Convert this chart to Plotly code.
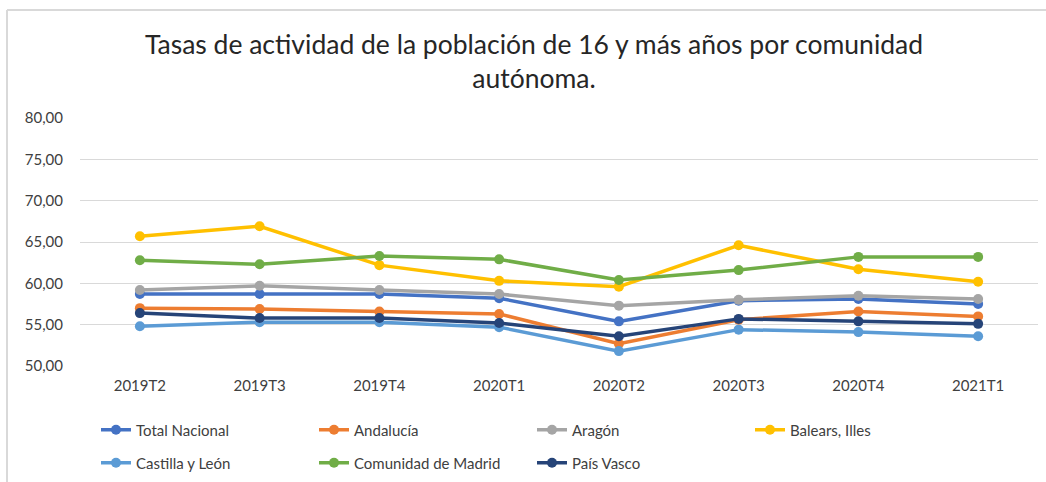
import plotly.graph_objects as go

periods = ["2019T2", "2019T3", "2019T4", "2020T1", "2020T2", "2020T3", "2020T4", "2021T1"]

total_nacional = [58.7, 58.7, 58.7, 58.2, 55.4, 57.9, 58.1, 57.5]
andalucia = [57.0, 56.9, 56.6, 56.3, 52.7, 55.6, 56.6, 56.0]
aragon = [59.2, 59.7, 59.2, 58.7, 57.3, 58.0, 58.5, 58.1]
balears = [65.7, 66.9, 62.2, 60.3, 59.6, 64.6, 61.7, 60.2]
castilla_leon = [54.8, 55.3, 55.3, 54.7, 51.8, 54.4, 54.1, 53.6]
madrid = [62.8, 62.3, 63.3, 62.9, 60.4, 61.6, 63.2, 63.2]
pais_vasco = [56.4, 55.8, 55.8, 55.2, 53.6, 55.7, 55.4, 55.1]

series = [
    ("Total Nacional", total_nacional, "#4472C4", "legend"),
    ("Andalucía", andalucia, "#ED7D31", "legend"),
    ("Aragón", aragon, "#A5A5A5", "legend"),
    ("Balears, Illes", balears, "#FFC000", "legend"),
    ("Castilla y León", castilla_leon, "#5B9BD5", "legend2"),
    ("Comunidad de Madrid", madrid, "#70AD47", "legend2"),
    ("País Vasco", pais_vasco, "#264478", "legend2"),
]

FONT = "Lato"

fig = go.Figure()
for name, vals, color, lg in series:
    fig.add_trace(go.Scatter(
        x=periods, y=vals, name=name, mode="lines+markers",
        line=dict(color=color, width=3.5),
        marker=dict(color=color, size=10),
        legend=lg,
    ))

# plot area in pixels: x 80..1038, y 118..366
L, R, T, B = 80, 1038, 118, 366
W, H = R - L, B - T

def px(x):
    return (x - L) / W

def py(y):
    return (B - y) / H

legend_common = dict(
    orientation="h", xanchor="left", yanchor="middle",
    entrywidth=173, entrywidthmode="pixels",
    font=dict(family=FONT, size=15, color="#404040"),
    bgcolor="rgba(0,0,0,0)", itemclick=False, itemdoubleclick=False,
)

fig.update_layout(
    width=1046, height=482,
    margin=dict(l=L, r=1046 - R, t=T, b=482 - B, autoexpand=False),
    paper_bgcolor="white", plot_bgcolor="white",
    separators=",.",
    font=dict(family=FONT, color="#595959"),
    title=dict(
        text="Tasas de actividad de la población de 16 y más años por comunidad<br>autónoma.",
        x=px(534), xref="paper", xanchor="center",
        y=1 - 54 / 482, yref="container", yanchor="middle",
        font=dict(family=FONT, size=26.5, color="#262626"),
    ),
    xaxis=dict(
        type="category", range=[-0.5, 7.5], showgrid=False, showline=False,
        ticks="", tickfont=dict(family=FONT, size=15, color="#404040"),
        ticklabelstandoff=9,
    ),
    yaxis=dict(
        range=[50, 80], dtick=5, tickformat=".2f", showgrid=True,
        gridcolor="#D9D9D9", gridwidth=1, zeroline=False, showline=False,
        tickfont=dict(family=FONT, size=15, color="#404040"),
        ticklabelstandoff=16,
    ),
    legend=dict(x=px(96), y=py(430), **legend_common),
    legend2=dict(x=px(96), y=py(463), **legend_common),
    showlegend=True,
    shapes=[
        dict(type="line", xref="paper", yref="paper",
             x0=px(7), x1=px(7), y0=py(10), y1=py(500),
             line=dict(color="#D9D9D9", width=2)),
        dict(type="line", xref="paper", yref="paper",
             x0=px(7), x1=px(1060), y0=py(10), y1=py(10),
             line=dict(color="#D9D9D9", width=2)),
    ],
)

fig.write_html("out.html", config={"displayModeBar": False},
               post_script="document.body.style.margin='0';")
